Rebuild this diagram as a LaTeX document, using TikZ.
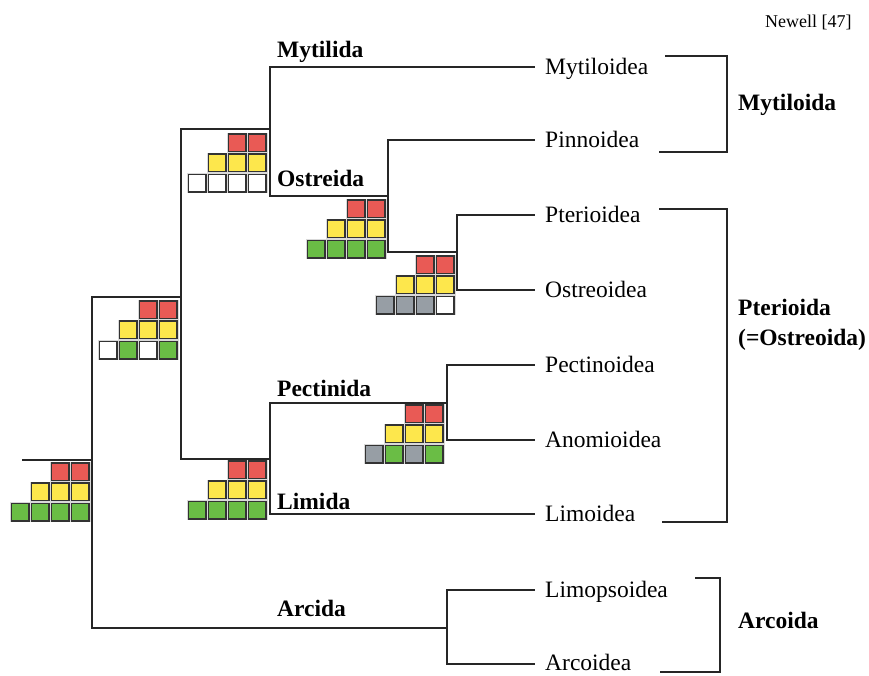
\documentclass[tikz,border=0pt]{standalone}
\usepackage{fontspec}
\setmainfont{Liberation Serif}

\definecolor{cellred}{HTML}{E95A55}
\definecolor{cellyel}{HTML}{FDE74C}
\definecolor{cellgrn}{HTML}{6ABD45}
\definecolor{cellgry}{HTML}{979EA5}

% one character-state cell: #1 right edge, #2 top edge, #3 fill colour
\newcommand\onecell[3]{%
  \filldraw[cellhalo] (#1-17.5,#2) rectangle (#1,#2+17.5);
  \filldraw[cellbox,fill=#3] (#1-17.5,#2) rectangle (#1,#2+17.5);}

% a 2/3/4 block of cells: #1 right edge, #2 top edge, #3..#6 bottom-row colours (left to right)
\newcommand\charblock[6]{%
  \onecell{#1-20}{#2}{cellred}\onecell{#1}{#2}{cellred}%
  \onecell{#1-40}{#2+20.2}{cellyel}\onecell{#1-20}{#2+20.2}{cellyel}\onecell{#1}{#2+20.2}{cellyel}%
  \onecell{#1-60}{#2+40.4}{#3}\onecell{#1-40}{#2+40.4}{#4}%
  \onecell{#1-20}{#2+40.4}{#5}\onecell{#1}{#2+40.4}{#6}}

\begin{document}
\begin{tikzpicture}[x=1pt,y=-1pt,
  branch/.style={line width=1.4pt, draw=black!85},
  cellhalo/.style={line width=3pt, draw=gray!30, fill=white},
  cellbox/.style={line width=1.5pt, draw=black!80},
  leaf/.style={anchor=base west, inner sep=0pt, font=\fontsize{23.5}{28}\selectfont},
  clade/.style={anchor=base west, inner sep=0pt, font=\fontsize{23.5}{30}\selectfont\bfseries, align=left},
  source/.style={anchor=base west, inner sep=0pt, font=\fontsize{18}{22}\selectfont}]
\useasboundingbox (0,0) rectangle (869,675);

% ---- leaf tips and superfamily names
\coordinate (myt-tip) at (535,67);
\coordinate (pin-tip) at (535,140);
\coordinate (pte-tip) at (535,215);
\coordinate (ost-tip) at (535,290);
\coordinate (pec-tip) at (535,365);
\coordinate (ano-tip) at (535,440);
\coordinate (lim-tip) at (535,514);
\coordinate (lps-tip) at (535,590);
\coordinate (arc-tip) at (535,664);

\node[leaf] (myt) at ([xshift=10pt,yshift=-7.5pt]myt-tip) {Mytiloidea};
\node[leaf] (pin) at ([xshift=10pt,yshift=-7.5pt]pin-tip) {Pinnoidea};
\node[leaf] (pte) at ([xshift=10pt,yshift=-7.5pt]pte-tip) {Pterioidea};
\node[leaf] (ost) at ([xshift=10pt,yshift=-7.5pt]ost-tip) {Ostreoidea};
\node[leaf] (pec) at ([xshift=10pt,yshift=-7.5pt]pec-tip) {Pectinoidea};
\node[leaf] (ano) at ([xshift=10pt,yshift=-7.5pt]ano-tip) {Anomioidea};
\node[leaf] (lim) at ([xshift=10pt,yshift=-7.5pt]lim-tip) {Limoidea};
\node[leaf] (lps) at ([xshift=10pt,yshift=-7.5pt]lps-tip) {Limopsoidea};
\node[leaf] (arc) at ([xshift=10pt,yshift=-6.5pt]arc-tip) {Arcoidea};

% ---- internal nodes of the tree
\coordinate (root-tip) at (22,460);
\coordinate (n0) at (92,460);
\coordinate (n1) at (181,297);
\coordinate (n2) at (270,129);
\coordinate (n3) at (270,459);
\coordinate (n4) at (388,196);
\coordinate (n5) at (457,252);
\coordinate (n6) at (447,403);
\coordinate (n7) at (447,628);

\draw[branch] (root-tip) -- (n0);
\draw[branch] (n0) |- (n1);
\draw[branch] (n0) |- (n7);
\draw[branch] (n1) |- (n2);
\draw[branch] (n1) |- (n3);
\draw[branch] (n2) |- (myt-tip);
\draw[branch] (n2) |- (n4);
\draw[branch] (n4) |- (pin-tip);
\draw[branch] (n4) |- (n5);
\draw[branch] (n5) |- (pte-tip);
\draw[branch] (n5) |- (ost-tip);
\draw[branch] (n3) |- (n6);
\draw[branch] (n3) |- (lim-tip);
\draw[branch] (n6) |- (pec-tip);
\draw[branch] (n6) |- (ano-tip);
\draw[branch] (n7) |- (lps-tip);
\draw[branch] (n7) |- (arc-tip);

% ---- clade names on branches
\node[clade] (mytilida) at (277,57) {Mytilida};
\node[clade] (ostreida) at (277,186) {Ostreida};
\node[clade] (pectinida) at (277,396.5) {Pectinida};
\node[clade] (limida) at (277,509) {Limida};
\node[clade] (arcida) at (277,616.5) {Arcida};

% ---- character-state blocks
\charblock{89}{463}{cellgrn}{cellgrn}{cellgrn}{cellgrn}
\charblock{177}{301}{white}{cellgrn}{white}{cellgrn}
\charblock{266}{134}{white}{white}{white}{white}
\charblock{385}{200}{cellgrn}{cellgrn}{cellgrn}{cellgrn}
\charblock{454}{256}{cellgry}{cellgry}{cellgry}{white}
\charblock{443}{405}{cellgry}{cellgrn}{cellgry}{cellgrn}
\charblock{266}{461}{cellgrn}{cellgrn}{cellgrn}{cellgrn}

% ---- Newell's orders, with brackets
\coordinate (myo-top) at (665,56);
\coordinate (myo-corner) at (727,152);
\coordinate (myo-bot) at (659,152);
\draw[branch] (myo-top) -| (myo-corner) -- (myo-bot);
\node[clade] (mytiloida) at (738,110.5) {Mytiloida};

\coordinate (pto-top) at (659,209);
\coordinate (pto-corner) at (727,522);
\coordinate (pto-bot) at (662,522);
\draw[branch] (pto-top) -| (pto-corner) -- (pto-bot);
\node[clade] (pterioida) at (738,345) {Pterioida\\(=Ostreoida)};

\coordinate (aro-top) at (695,578);
\coordinate (aro-corner) at (720,672);
\coordinate (aro-bot) at (660,672);
\draw[branch] (aro-top) -| (aro-corner) -- (aro-bot);
\node[clade] (arcoida) at (738,628) {Arcoida};

\node[source] (newell) at (765,27) {Newell [47]};
\end{tikzpicture}
\end{document}
